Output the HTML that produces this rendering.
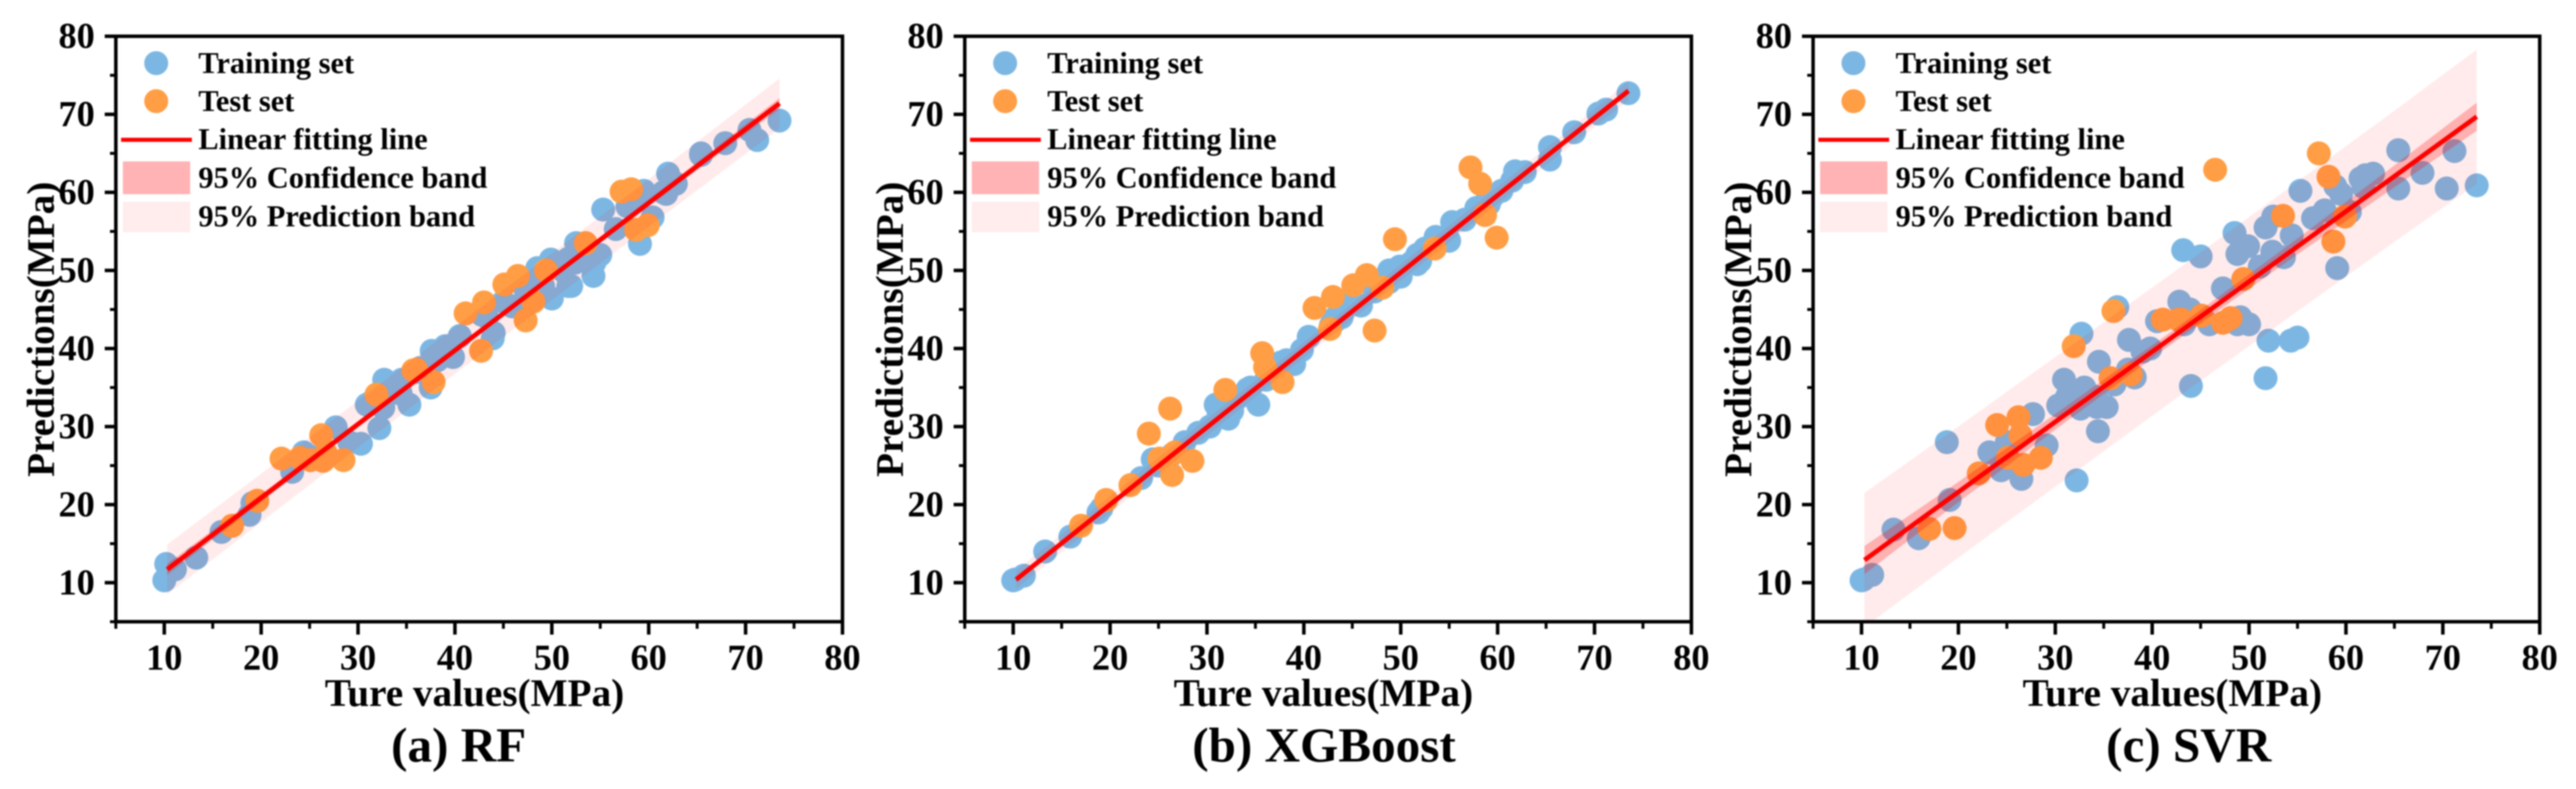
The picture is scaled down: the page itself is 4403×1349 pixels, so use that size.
<!DOCTYPE html>
<html lang="en">
<head>
<meta charset="utf-8">
<title>Predicted vs true values: RF, XGBoost, SVR</title>
<style>
html,body{margin:0;padding:0;background:#fff;width:4403px;height:1349px;overflow:hidden}
svg{display:block;filter:blur(1.2px)}
text{font-family:"Liberation Serif",serif;font-weight:bold;fill:#000}
</style>
</head>
<body>
<svg id="figure" xmlns="http://www.w3.org/2000/svg" width="4403" height="1349" viewBox="0 0 4403 1349"></svg>
<script>
// ---- data ----
const xTickLabels = [10, 20, 30, 40, 50, 60, 70, 80];
const yTickLabels = [10, 20, 30, 40, 50, 60, 70, 80];
const legendLabels = ['Training set', 'Test set', 'Linear fitting line', '95% Confidence band', '95% Prediction band'];
const panelTitles = ['(a) RF', '(b) XGBoost', '(c) SVR'];

const trainX = [10,10.2,11.1,13.3,15.9,18.8,19.1,23.2,24.4,25,26.5,27.7,29.1,30.3,30.9,31.2,32.2,32.7,32.6,33,34.2,34.4,34.5,34.3,35.3,36.4,36.1,37.6,37.5,38.2,39,39.8,40.5,42.8,43.2,43.3,43.9,44,45,45.9,47.3,48.5,48.8,49.1,48.8,50,49.9,51.1,51.7,51.7,52,52.5,52.4,53.6,54.3,55,54.4,55.3,56.6,57.8,58.9,59.1,59.5,60.4,61.5,61.8,62,62.8,65.4,65.4,67.9,70.4,71.2,73.5];
const trainYRF = [10.3,12.4,11.7,13.2,16.5,18.7,20.2,24.2,26.7,26.2,26,29.9,28,27.8,32.8,33,29.8,36,32.4,34,35.5,34.2,36,34.8,32.8,37.5,37,39.7,35,38.5,40.3,38.9,41.6,44.3,44.5,44,41.3,42,46,45.4,47.5,50.3,49,48,47.5,46.4,51.4,50,51.5,48,48,53.5,51,52,49.3,52,51,57.8,55.3,58.2,59,53.4,60.2,56.8,60,59.8,62.4,61.1,65,64.8,66.3,68,66.7,69.2];
const trainYXGB = [10.3,10.4,10.9,14,15.9,19,19.5,23.4,25.8,25,26.5,28,29.2,30,32.8,31.5,31,33,32,33.5,34.8,34.5,35,34,32.8,36.2,36,38.2,37.5,38.5,38,39.8,41.5,43,43.5,44,44,44.5,46,45.5,47.3,48.3,50,49,48.5,49.2,50.5,51,52,50.8,51.2,52.8,52.5,54.3,53.8,53.8,54,56.2,56.5,58,59,58.5,59.5,60.2,61.5,62.7,62.5,62.6,65.8,64.2,67.7,70.1,70.6,72.7];
const trainYSVR = [10.3,10.4,11,16.8,15.7,28,20.6,26.7,24.4,28,23.3,31.6,27.6,32.7,36,33.8,23.1,41.9,32.3,35,33.8,29.4,38.3,32.5,32.5,45.3,35.4,41.1,37.3,36.3,39.6,40,43.5,46,52.6,43.1,45,35.2,51.8,43.1,47.7,54.8,52.1,44,43.1,43.1,53.1,50.5,55.5,36.2,41,56.9,52.4,51.7,41,41.4,54.5,60.2,56.7,57.7,60.8,50.3,59.8,57.5,61.8,60.7,62.2,62.4,65.4,60.5,62.5,60.5,65.3,60.9];

const testX = [17,19.6,22.1,24,25.1,26.2,26.4,26.7,28.5,31.9,35.7,36,37.8,41.1,42.7,43,45.1,46.5,47.3,48.1,49.4,53.5,57.2,58.2,58.7,59.9];
const testYRF = [17.3,20.5,25.9,26,25.7,28.9,25.6,26.5,25.7,34.1,37.2,37.3,35.7,44.5,39.7,45.9,48.2,49.3,43.6,46,50,53.5,60.1,60.4,55.2,55.8];
const testYXGB = [17.3,20.6,22.5,29.1,25.9,32.3,23.8,26.7,25.6,34.7,39.4,37.6,35.7,45.2,42.5,46.6,48.1,49.4,42.3,47.8,54,52.8,63.2,61.1,57.1,54.2];
const testYSVR = [16.9,17,24,30.2,26,31.2,28.9,25.1,26,40.3,36.2,44.8,36.7,43.7,43.7,43.7,44.2,62.9,43.3,43.9,48.9,57,65,62,53.7,56.9];

const fitX = [10.3, 73.5];
const fitYRF = [11.7, 71.4];
const fitYXGB = [10.4, 73];
const fitYSVR = [12.9, 69.7];

const bandX = [10.3, 20, 30, 42, 55, 65, 73.5];
const confHalfRF = [0.7, 0.5, 0.4, 0.35, 0.4, 0.5, 0.7];
const confHalfXGB = [0.35, 0.3, 0.25, 0.2, 0.25, 0.3, 0.35];
const confHalfSVR = [1.8, 1.3, 1, 0.8, 1, 1.4, 1.8];
const predHalfRF = [3.2, 3.1, 3, 3, 3, 3.1, 3.2];
const predHalfXGB = [1.2, 1.1, 1.1, 1, 1.1, 1.1, 1.2];
const predHalfSVR = [8.6, 8.4, 8.3, 8.2, 8.3, 8.4, 8.6];

const trainYSets = [trainYRF, trainYXGB, trainYSVR];
const testYSets = [testYRF, testYXGB, testYSVR];
const fitYSets = [fitYRF, fitYXGB, fitYSVR];
const confSets = [confHalfRF, confHalfXGB, confHalfSVR];
const predSets = [predHalfRF, predHalfXGB, predHalfSVR];

// ---- layout ----
const NS = 'http://www.w3.org/2000/svg';
const root = document.getElementById('figure');
const panelLeft = [198, 1649, 3099];
const xLabelCenter = [811, 2262, 3713];
const titleCenter = [784, 2263, 3741];
const plotW = 1242, plotTop = 62, plotBottom = 1063;
const domainMin = 5, domainMax = 80;

function node(tag, parent, attrs, content) {
  const el = document.createElementNS(NS, tag);
  for (const k in attrs) el.setAttribute(k, attrs[k]);
  if (content !== undefined) el.textContent = content;
  parent.appendChild(el);
  return el;
}

function drawPanel(i) {
  const left = panelLeft[i];
  const sx = v => left + (v - domainMin) / (domainMax - domainMin) * plotW;
  const sy = v => plotBottom - (v - domainMin) / (domainMax - domainMin) * (plotBottom - plotTop);

  const g = node('g', root, {});
  
  

  const clip = node('clipPath', g, { id: 'plot-clip-' + i });
  node('rect', clip, { x: left, y: plotTop, width: plotW, height: plotBottom - plotTop });

  const plot = node('g', g, { 'clip-path': 'url(#plot-clip-' + i + ')' });
  
  

  trainX.forEach((x, k) => {
    const c = node('circle', plot, { cx: sx(x), cy: sy(trainYSets[i][k]), r: 20.5, fill: '#7cb7e3' });
    
    
  });
  testX.forEach((x, k) => {
    const c = node('circle', plot, { cx: sx(x), cy: sy(testYSets[i][k]), r: 20.5, fill: '#ff9e45' });
    
    
  });

  const fitAt = x => fitYSets[i][0] + (x - fitX[0]) / (fitX[1] - fitX[0]) * (fitYSets[i][1] - fitYSets[i][0]);
  const bandPath = halves => {
    const up = bandX.map((x, k) => sx(x) + ',' + sy(fitAt(x) + halves[k]));
    const down = bandX.map((x, k) => sx(x) + ',' + sy(fitAt(x) - halves[k])).reverse();
    return up.concat(down).join(' ');
  };
  const pred = node('polygon', plot, { points: bandPath(predSets[i]), fill: '#ff0000', 'fill-opacity': 0.08 });
  
  
  const conf = node('polygon', plot, { points: bandPath(confSets[i]), fill: '#ff0000', 'fill-opacity': 0.25 });
  
  
  const fit = node('line', plot, { x1: sx(fitX[0]), y1: sy(fitYSets[i][0]), x2: sx(fitX[1]), y2: sy(fitYSets[i][1]), stroke: '#ff0000', 'stroke-width': 8 });
  
  

  const frame = node('rect', g, { x: left, y: plotTop, width: plotW, height: plotBottom - plotTop, fill: 'none', stroke: '#000', 'stroke-width': 6 });
  
  

  // ticks
  xTickLabels.forEach(v => {
    const t = node('line', g, { x1: sx(v), x2: sx(v), y1: plotBottom, y2: plotBottom + 22, stroke: '#000', 'stroke-width': 6 });
    
    
    const m = node('line', g, { x1: sx(v - 5), x2: sx(v - 5), y1: plotBottom, y2: plotBottom + 12, stroke: '#000', 'stroke-width': 5 });
    
    
    const l = node('text', g, { x: sx(v), y: 1145, 'text-anchor': 'middle', 'font-size': 62 }, String(v));
    
    
  });
  yTickLabels.forEach(v => {
    const t = node('line', g, { x1: left - 19, x2: left, y1: sy(v), y2: sy(v), stroke: '#000', 'stroke-width': 6 });
    
    
    const m = node('line', g, { x1: left - 10, x2: left, y1: sy(v - 5), y2: sy(v - 5), stroke: '#000', 'stroke-width': 5 });
    
    
    const l = node('text', g, { x: left - 36, y: sy(v) + 20, 'text-anchor': 'end', 'font-size': 62 }, String(v));
    
    
  });

  // axis titles
  const xt = node('text', g, { x: xLabelCenter[i], y: 1207, 'text-anchor': 'middle', 'font-size': 67 }, 'Ture values(MPa)');
  
  
  const yx = left - 106;
  const yt = node('text', g, { x: yx, y: 563, 'text-anchor': 'middle', 'font-size': 67, transform: 'rotate(-90 ' + yx + ' 563)' }, 'Predictions(MPa)');
  
  
  const pt = node('text', g, { x: titleCenter[i], y: 1302, 'text-anchor': 'middle', 'font-size': 84 }, panelTitles[i]);
  
  

  // legend
  const lg = node('g', g, {});
  
  
  const lm1 = node('circle', lg, { cx: left + 69, cy: 108, r: 20.5, fill: '#7cb7e3' });
  
  
  const lm2 = node('circle', lg, { cx: left + 69, cy: 173, r: 20.5, fill: '#ff9e45' });
  
  
  const lm3 = node('line', lg, { x1: left + 9, x2: left + 130, y1: 239, y2: 239, stroke: '#ff0000', 'stroke-width': 7 });
  
  
  const lm4 = node('rect', lg, { x: left + 12, y: 276, width: 115, height: 56, fill: '#ffb3b5' });
  
  
  const lm5 = node('rect', lg, { x: left + 12, y: 345, width: 115, height: 52, fill: '#ffecec' });
  
  
  const baselines = [125, 190, 255, 321, 387];
  legendLabels.forEach((s, k) => {
    const lt = node('text', lg, { x: left + 141, y: baselines[k], 'font-size': 52 }, s);
    
    
  });
}

panelLeft.forEach((_, i) => drawPanel(i));
</script>
</body>
</html>
